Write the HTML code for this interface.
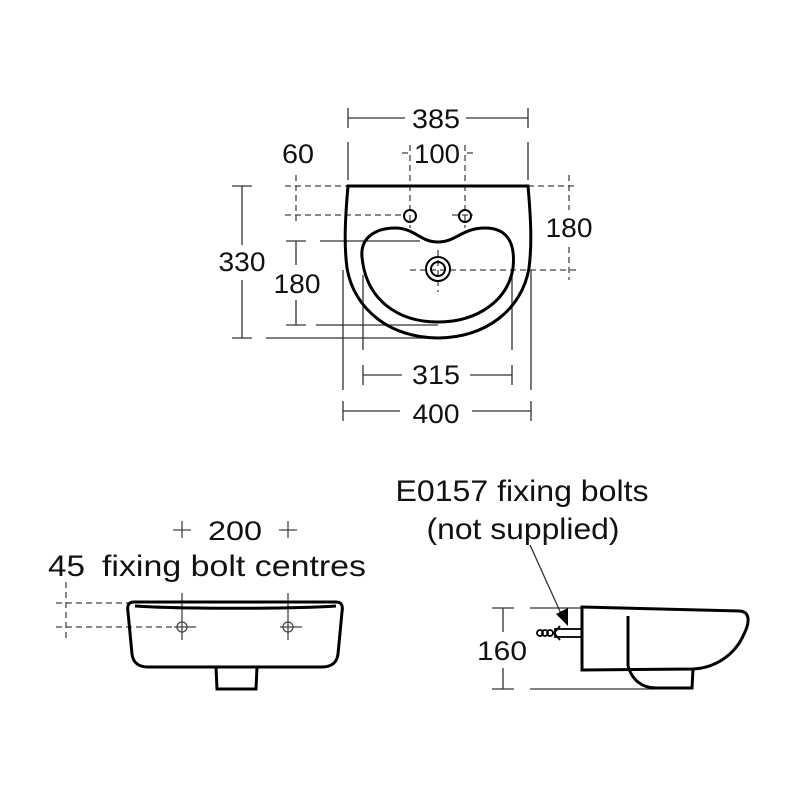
<!DOCTYPE html>
<html><head><style>
html,body{margin:0;padding:0;background:#fff;}
svg{display:block}
text{font-family:"Liberation Sans",sans-serif;fill:#111;}
</style></head><body>
<svg width="800" height="800" viewBox="0 0 800 800" xmlns="http://www.w3.org/2000/svg">
<g stroke="#333" stroke-width="1.3" fill="none">
<line x1="348" y1="118" x2="405" y2="118"/><line x1="466" y1="118" x2="528" y2="118"/>
<line x1="348" y1="108" x2="348" y2="128"/><line x1="528" y1="108" x2="528" y2="128"/>
<line x1="348" y1="142" x2="348" y2="180"/><line x1="528" y1="142" x2="528" y2="180"/>
<line x1="343" y1="411" x2="400" y2="411"/><line x1="472" y1="411" x2="531" y2="411"/>
<line x1="343" y1="401" x2="343" y2="421"/><line x1="531" y1="401" x2="531" y2="421"/>
<line x1="343" y1="270" x2="343" y2="390"/><line x1="531" y1="270" x2="531" y2="390"/>
<line x1="363" y1="375" x2="402" y2="375"/><line x1="470" y1="375" x2="512" y2="375"/>
<line x1="363" y1="365" x2="363" y2="385"/><line x1="512" y1="365" x2="512" y2="385"/>
<line x1="363" y1="275" x2="363" y2="350"/><line x1="512" y1="275" x2="512" y2="350"/>
<line x1="242" y1="186" x2="242" y2="245"/><line x1="242" y1="280" x2="242" y2="338"/>
<line x1="232" y1="186" x2="252" y2="186"/><line x1="232" y1="338" x2="252" y2="338"/>
<line x1="266" y1="338" x2="438" y2="338"/>
<line x1="296" y1="241" x2="296" y2="265"/><line x1="296" y1="300" x2="296" y2="325"/>
<line x1="286" y1="241" x2="306" y2="241"/><line x1="286" y1="325" x2="306" y2="325"/>
<line x1="320" y1="241" x2="420" y2="241"/><line x1="316" y1="325" x2="438" y2="325"/>
</g>
<g stroke="#444" stroke-width="1.3" fill="none" stroke-dasharray="6,4">
<line x1="296" y1="175" x2="296" y2="225"/>
<line x1="285" y1="186" x2="348" y2="186"/>
<line x1="285" y1="215" x2="404" y2="215"/><line x1="452" y1="215" x2="473" y2="215"/>
<line x1="410" y1="145" x2="410" y2="228"/><line x1="465" y1="145" x2="465" y2="228"/>
<line x1="402" y1="153" x2="408" y2="153"/><line x1="467" y1="153" x2="473" y2="153"/>
<line x1="569" y1="175" x2="569" y2="210"/><line x1="569" y1="247" x2="569" y2="280"/>
<line x1="528" y1="186" x2="577" y2="186"/>
<line x1="410" y1="270" x2="577" y2="270"/>
<line x1="438" y1="250" x2="438" y2="292"/>
<line x1="66" y1="582" x2="66" y2="640"/>
<line x1="56" y1="603" x2="128" y2="603"/>
<line x1="56" y1="627" x2="176" y2="627"/>
</g>
<g stroke="#000" stroke-width="3" fill="none">
<path d="M348,186 L528,186 C531,220 532,245 529,268 C522,310 485,338 438,338 C391,338 354,310 347,268 C344,245 345,220 348,186 Z"/>
<path d="M362,257 C360,236 378,228 395,228 C415,228 420,242 438,242 C456,242 462,228 485,228 C505,228 516,240 513,268 C508,300 478,322 438,322 C398,322 366,300 362,257 Z"/>
</g>
<g stroke="#000" stroke-width="2" fill="none">
<circle cx="438" cy="269" r="12"/><circle cx="438" cy="269" r="7"/>
<circle cx="410" cy="216" r="6"/><circle cx="465" cy="216" r="6"/>
</g>
<g font-size="27" text-anchor="middle">
<text x="436" y="128" textLength="48" lengthAdjust="spacingAndGlyphs">385</text>
<text x="437" y="163" textLength="46" lengthAdjust="spacingAndGlyphs">100</text>
<text x="298" y="163" textLength="32" lengthAdjust="spacingAndGlyphs">60</text>
<text x="569" y="237" textLength="47" lengthAdjust="spacingAndGlyphs">180</text>
<text x="242" y="271" textLength="47" lengthAdjust="spacingAndGlyphs">330</text>
<text x="297" y="293" textLength="47" lengthAdjust="spacingAndGlyphs">180</text>
<text x="436" y="384" textLength="48" lengthAdjust="spacingAndGlyphs">315</text>
<text x="436" y="423" textLength="47" lengthAdjust="spacingAndGlyphs">400</text>
<text x="235" y="540" textLength="54" lengthAdjust="spacingAndGlyphs">200</text>
<text x="502" y="660" textLength="50" lengthAdjust="spacingAndGlyphs">160</text>
</g>
<g font-size="30" text-anchor="middle">
<text x="522" y="501" textLength="253" lengthAdjust="spacingAndGlyphs">E0157 fixing bolts</text>
<text x="523" y="539" textLength="193" lengthAdjust="spacingAndGlyphs">(not supplied)</text>
</g>
<text x="48" y="576" font-size="30" textLength="37" lengthAdjust="spacingAndGlyphs">45</text>
<text x="102" y="576" font-size="30" textLength="264" lengthAdjust="spacingAndGlyphs">fixing bolt centres</text>
<g stroke="#444" stroke-width="1.3" fill="none">
<line x1="182" y1="521" x2="182" y2="538"/><line x1="173" y1="530" x2="191" y2="530"/>
<line x1="288" y1="521" x2="288" y2="538"/><line x1="279" y1="530" x2="297" y2="530"/>
<line x1="182" y1="593" x2="182" y2="640"/><line x1="288" y1="593" x2="288" y2="640"/>
<line x1="174" y1="627" x2="196" y2="627"/><line x1="280" y1="627" x2="302" y2="627"/>
<circle cx="182" cy="627" r="5"/><circle cx="288" cy="627" r="5"/>
</g>
<g stroke="#000" stroke-width="3" fill="none">
<path d="M134,602 L336,602 C342,602 343,606 342,612 L338,654 C337,663 331,667 322,667 L148,667 C139,667 133,663 132,654 L128,612 C127,606 128,602 134,602 Z"/>
<path d="M135,606 C180,609 290,609 336,606"/>
<path d="M216,667 L217,689 L256,689 L257,667"/>
</g>
<g stroke="#333" stroke-width="1.3" fill="none">
<line x1="503" y1="608" x2="503" y2="632"/><line x1="503" y1="668" x2="503" y2="689"/>
<line x1="492" y1="608" x2="514" y2="608"/><line x1="492" y1="689" x2="514" y2="689"/>
<line x1="530" y1="608" x2="582" y2="608"/><line x1="530" y1="689" x2="655" y2="689"/>
<line x1="530" y1="545" x2="563" y2="618"/>
</g>
<path d="M556,614 L568,626 L568,608 Z" fill="#000"/>
<g stroke="#000" stroke-width="1.8" fill="none">
<rect x="555" y="629" width="27" height="8"/>
<circle cx="540" cy="633" r="3"/><circle cx="545" cy="633" r="3"/><circle cx="550" cy="633" r="3"/>
<path d="M560,626 L554,633 L560,640"/>
</g>
<g stroke="#000" stroke-width="3" fill="none">
<path d="M582,607 L740,611 C750,612 750,622 744,634 C735,655 715,668 693,669 L582,670 Z"/>
<line x1="628" y1="616" x2="628" y2="666"/>
<path d="M628,666 C632,680 642,688 656,688 L692,688 L693,669"/>
</g>
</svg>
</body></html>
